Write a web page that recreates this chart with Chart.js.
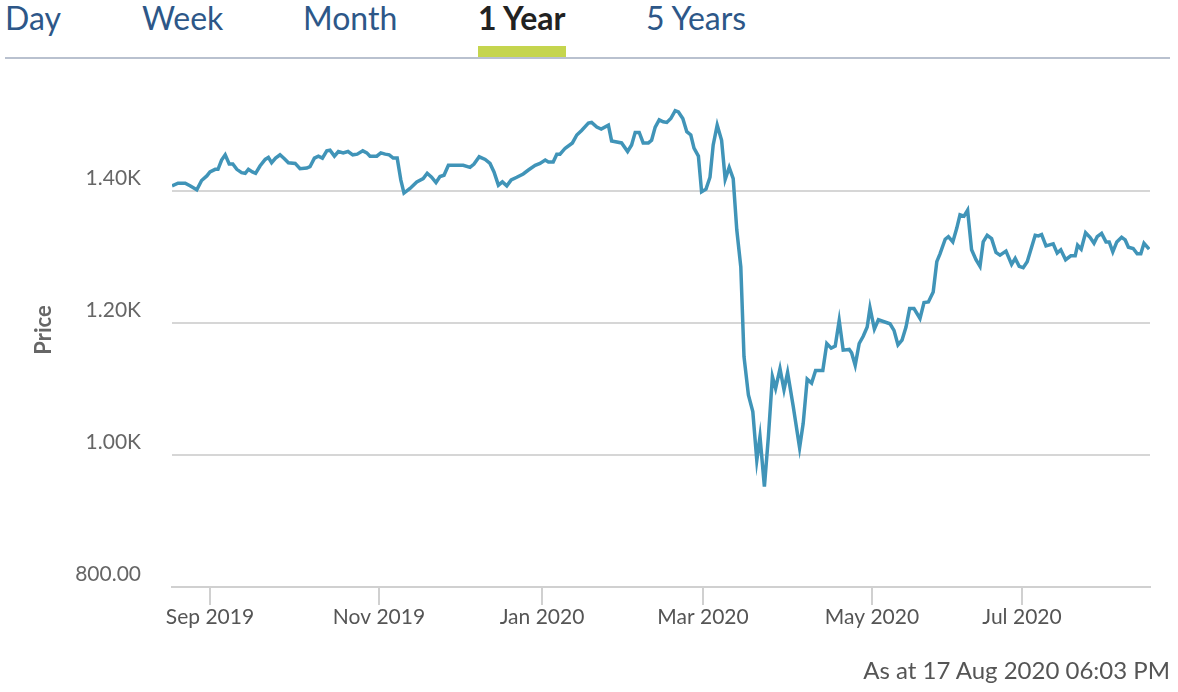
<!DOCTYPE html>
<html>
<head>
<meta charset="utf-8">
<script src="https://cdn.jsdelivr.net/npm/chart.js@4.4.0/dist/chart.umd.min.js"></script>
<style>
  body { margin: 0; background: #fff; font-family: Lato, sans-serif; }
  .page { position: relative; width: 1178px; height: 692px; overflow: hidden; }
  .tab { position: absolute; top: -1px; font-size: 32px; line-height: 1.2; color: #2d5788; }
  .tab.active { color: #222; font-weight: bold; }
  .bar { position: absolute; left: 478px; top: 46px; width: 88px; height: 11px; background: #c5d54e; }
  .divider { position: absolute; left: 5px; top: 57px; width: 1165px; height: 2px; background: #b9c1cf; }
  .chartBox { position: absolute; left: 0; top: 60px; width: 1178px; height: 600px; }
  .footer { position: absolute; right: 8px; top: 655px; font-size: 24px; color: #555; }
</style>
</head>
<body>
<div class="page">
  <span class="tab" style="left:5px">Day</span>
  <span class="tab" style="left:142px">Week</span>
  <span class="tab" style="left:303px">Month</span>
  <span class="tab active" style="left:478px">1 Year</span>
  <span class="tab" style="left:646px">5 Years</span>
  <div class="bar"></div>
  <div class="divider"></div>
  <div class="chartBox"><canvas id="myChart"></canvas></div>
  <div class="footer">As at 17 Aug 2020 06:03 PM</div>
</div>
<script>
// trading-day position of each price point
const days = [
  0,1.5,3.3,4.5,6.2,7.4,8.7,9.5,10.8,11.5,
  12.4,13.3,14.3,15.2,16.2,17.4,18.3,19.1,20.1,20.9,
  22,23.3,24.1,24.9,25.9,27,28.1,29.1,30.8,32,
  33.7,34.5,35.6,36.6,37.6,38.7,39.5,40.6,41.6,42.8,
  44,45.2,46.3,47.7,48.7,49.5,51.2,52.2,53.3,54.3,
  55.3,56.3,57.2,58,59.5,61.2,62.8,63.8,64.9,66,
  67,68,69.1,70.8,72.8,74.5,75.5,76.8,78.3,79.5,
  80.5,81.6,82.6,83.7,84.8,86.2,87.8,89.1,90.8,92,
  93.3,94.1,95.3,96.2,97,98.3,100.1,101.2,102.4,104.1,
  104.9,106.2,107.3,109.1,109.9,112.4,113.9,114.9,115.8,116.8,
  117.8,119.1,119.9,120.8,121.8,122.8,123.7,124.7,125.8,126.6,
  127.7,128.7,129.7,130.5,131.6,132.4,133.5,134.5,135.3,136.3,
  137.4,138.3,139.3,140.3,141.2,142.2,143,144.1,145.2,146.2,
  147,148.1,149.1,150.1,150.9,152,153,153.9,155.3,156.9,
  157.8,158.8,159.9,160.9,162.7,163.7,164.8,165.8,166.8,167.8,
  169.3,169.9,170.8,171.8,172.8,173.8,174.5,175.6,176.6,179.5,
  180.5,181.5,182.5,183.5,184.4,185.5,187,188,189.1,190.3,
  191.2,192,193.3,194.1,195.2,196.2,197,198,198.9,199.9,
  201,202,202.8,203.8,204.9,206,207,208.5,209.9,210.8,
  211.8,212.8,213.8,215.8,216.6,217.4,218.5,220.3,221.3,222.2,
  223.4,224.7,225.8,226.4,227.3,228.4,229.5,230.5,231.3,232.4,
  233.5,234.3,235.2,236.2,237.4,238.3,239.1,240.3,241.3,242.2,
  243,244.3
];
const prices = [
  1408,1412,1412,1408,1402,1416,1423,1429,1433,1433,
  1447,1455,1441,1441,1433,1428,1427,1433,1429,1427,
  1438,1448,1451,1443,1450,1455,1449,1443,1442,1434,
  1435,1437,1450,1453,1450,1461,1462,1453,1460,1458,
  1460,1455,1456,1461,1458,1453,1453,1458,1456,1455,
  1450,1450,1417,1397,1404,1414,1419,1427,1421,1413,
  1422,1424,1439,1439,1439,1436,1441,1452,1448,1442,
  1429,1409,1414,1408,1417,1421,1426,1432,1439,1442,
  1447,1444,1444,1456,1456,1465,1473,1485,1492,1503,
  1504,1497,1494,1500,1476,1473,1460,1470,1489,1489,
  1473,1473,1477,1497,1508,1505,1504,1510,1522,1520,
  1510,1490,1485,1465,1453,1399,1403,1421,1470,1500,
  1477,1418,1436,1419,1341,1285,1149,1091,1066,992,
  1028,952,1028,1119,1101,1131,1099,1125,1074,1011,
  1048,1115,1109,1128,1128,1169,1162,1165,1204,1159,
  1160,1155,1136,1169,1180,1194,1223,1191,1205,1199,
  1189,1167,1174,1194,1222,1222,1207,1231,1232,1247,
  1293,1305,1327,1331,1323,1344,1364,1362,1371,1311,
  1296,1286,1323,1333,1328,1307,1303,1309,1289,1298,
  1286,1284,1293,1333,1332,1334,1317,1320,1306,1311,
  1296,1302,1302,1318,1312,1337,1330,1321,1331,1336,
  1323,1323,1308,1323,1330,1326,1315,1313,1305,1305,
  1321,1312
];
const monthTicks = [9.5, 51.75, 92.5, 132.75, 175, 212.5];
const monthLabels = ["Sep 2019", "Nov 2019", "Jan 2020", "Mar 2020", "May 2020", "Jul 2020"];
const priceTicks = [800, 1000, 1200, 1400];

const points = days.map((d, i) => ({ x: d, y: prices[i] }));
const tickFont = { family: 'Lato', size: 21 };

const ctx = document.getElementById('myChart').getContext('2d');
new Chart(ctx, {
    type: 'line',
    data: {
        datasets: [{
            label: 'Price',
            data: points,
            borderColor: '#4094b8',
            borderWidth: 3.5,
            pointRadius: 0,
            tension: 0,
        }]
    },
    options: {
        responsive: true,
        maintainAspectRatio: false,
        animation: false,
        layout: { padding: { top: 13, right: 28, left: 0, bottom: 0 } },
        plugins: { legend: { display: false }, tooltip: { enabled: false } },
        scales: {
            x: {
                type: 'linear',
                min: 0,
                max: 244.5,
                afterBuildTicks: (axis) => { axis.ticks = monthTicks.map(v => ({ value: v })); },
                afterFit: (axis) => { axis.height = 73; },
                grid: { drawOnChartArea: false, drawTicks: true, tickLength: 18, color: '#d0d0d0', lineWidth: 2 },
                border: { display: true, color: '#d0d0d0', width: 2 },
                ticks: {
                    autoSkip: false,
                    maxRotation: 0,
                    padding: 0,
                    color: '#555',
                    font: tickFont,
                    callback: (value, index) => monthLabels[index],
                },
            },
            y: {
                min: 800,
                max: 1579,
                afterBuildTicks: (axis) => { axis.ticks = priceTicks.map(v => ({ value: v })); },
                afterFit: (axis) => { axis.width = 172; },
                // invisible tick marks make the gap between labels and grid
                grid: { color: '#d6d6d6', lineWidth: 2, drawTicks: true, tickLength: 31, tickColor: 'rgba(0,0,0,0)' },
                border: { display: false },
                title: {
                    display: true,
                    text: 'Price',
                    color: '#666',
                    font: { family: 'Lato', size: 22, weight: 'bold' },
                    padding: { top: 31, bottom: 0 },
                },
                ticks: {
                    padding: 0,
                    labelOffset: -13,
                    color: '#666',
                    font: tickFont,
                    callback: (v) => v >= 1000 ? (v / 1000).toFixed(2) + 'K' : v.toFixed(2),
                },
            },
        },
    },
});
</script>
</body>
</html>
